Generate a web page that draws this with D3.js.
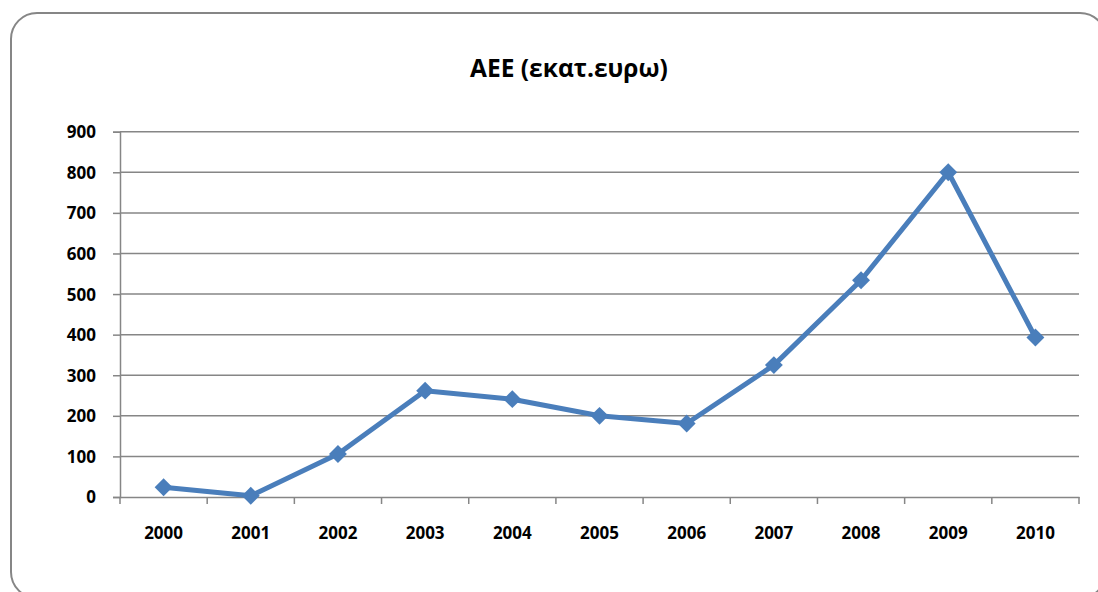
<!DOCTYPE html>
<html>
<head>
<meta charset="utf-8">
<script src="https://cdn.jsdelivr.net/npm/d3@7"></script>
<style>
  body { margin: 0; background: #fff; }
  text { font-family: "Open Sans", "DejaVu Sans", sans-serif; font-weight: bold; fill: #000; }
</style>
</head>
<body>
<svg id="chart" width="1098" height="592"></svg>
<script>
const years  = ["2000","2001","2002","2003","2004","2005","2006","2007","2008","2009","2010"];
const values = [24, 3, 106, 262, 241, 200, 181, 325, 534, 800, 393];
const yTicks = [0, 100, 200, 300, 400, 500, 600, 700, 800, 900];

const LEFT = 120, RIGHT = 1079, TOP = 131.7, BOTTOM = 497;
const GRID = "#868686";
const BLUE = "#4a7ebb";

const svg = d3.select("#chart");

// frame
svg.append("rect")
  .attr("x", 11).attr("y", 13)
  .attr("width", 1095).attr("height", 585)
  .attr("rx", 26).attr("ry", 26)
  .attr("fill", "#fff")
  .attr("stroke", GRID).attr("stroke-width", 2);

svg.append("text")
  .attr("x", 569).attr("y", 77)
  .attr("text-anchor", "middle")
  .attr("font-size", 24.5)
  .text("ΑΕΕ (εκατ.ευρω)");

const x = d3.scaleBand().domain(years).range([LEFT, RIGHT]);
const y = d3.scaleLinear().domain([0, 900]).range([BOTTOM, TOP]);

// y axis with gridlines
const yAxis = svg.append("g")
  .attr("transform", `translate(${LEFT},0)`)
  .call(d3.axisLeft(y).tickValues(yTicks).tickSize(7).tickPadding(17));
yAxis.select(".domain").attr("stroke", GRID).attr("stroke-width", 1.5);
yAxis.selectAll(".tick line").attr("stroke", GRID).attr("stroke-width", 1.5);
yAxis.selectAll(".tick text").attr("font-size", 17).attr("dy", "0.35em");

svg.append("g").selectAll("line")
  .data(yTicks.filter(d => d > 0))
  .join("line")
  .attr("x1", LEFT).attr("x2", RIGHT)
  .attr("y1", d => y(d)).attr("y2", d => y(d))
  .attr("stroke", GRID).attr("stroke-width", 1.5);

// x axis
const xAxis = svg.append("g")
  .attr("transform", `translate(0,${BOTTOM})`)
  .call(d3.axisBottom(x).tickSize(0).tickPadding(30));
xAxis.select(".domain").attr("stroke", GRID).attr("stroke-width", 1.5);
xAxis.selectAll(".tick text").attr("font-size", 17);

svg.append("g").selectAll("line")
  .data(years.map(d => x(d)).concat([RIGHT]))
  .join("line")
  .attr("x1", d => d).attr("x2", d => d)
  .attr("y1", BOTTOM).attr("y2", BOTTOM + 7)
  .attr("stroke", GRID).attr("stroke-width", 1.5);

// series
const cx = d => x(d) + x.bandwidth() / 2;
const line = d3.line().x((d, i) => cx(years[i])).y(d => y(d));

svg.append("path")
  .datum(values)
  .attr("d", line)
  .attr("fill", "none")
  .attr("stroke", BLUE)
  .attr("stroke-width", 5)
  .attr("stroke-linejoin", "round");

svg.append("g").selectAll("path")
  .data(values)
  .join("path")
  .attr("d", d3.symbol(d3.symbolSquare, 160))
  .attr("transform", (d, i) => `translate(${cx(years[i])},${y(d)}) rotate(45)`)
  .attr("fill", BLUE);
</script>
</body>
</html>
